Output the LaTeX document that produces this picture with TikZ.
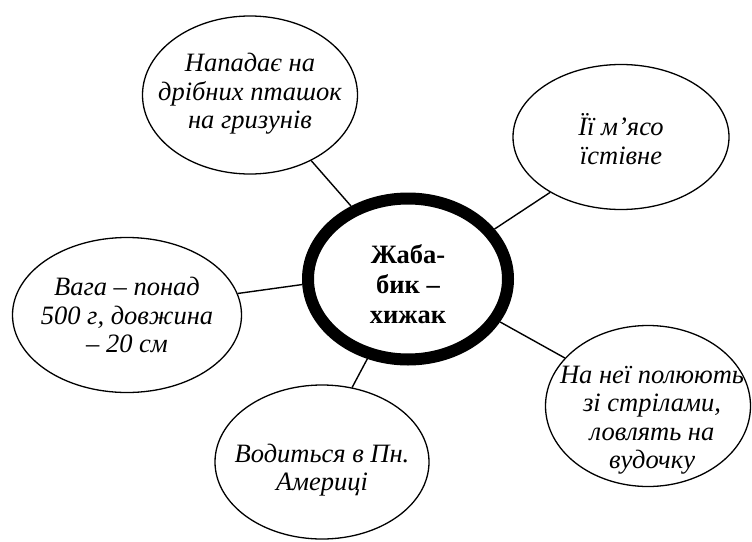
\documentclass[tikz,border=0pt]{standalone}
\usepackage{fontspec}
\setmainfont{Liberation Serif}
\usetikzlibrary{shapes.geometric}
\tikzset{
  bubble/.style={draw,ellipse,line width=1.3pt,inner sep=0pt},
  words/.style={align=center,font=\itshape\fontsize{26.5}{28.5}\selectfont},
  spoke/.style={line width=1.4pt},
}
\begin{document}
\begin{tikzpicture}[x=1pt,y=-1pt]
\useasboundingbox (0,0) rectangle (752,541);
% centre
\node[draw,ellipse,line width=12pt,inner sep=0pt,minimum width=200pt,minimum height=161pt] (hub) at (408,279) {};
\node[align=center,font=\bfseries\fontsize{26.5}{30}\selectfont] (hubtext) at (408,284) {Жаба-\\бик –\\хижак};
% outer ellipses
\node[bubble,minimum width=215pt,minimum height=158pt] (prey) at (250,95) {};
\node[bubble,minimum width=216pt,minimum height=145pt] (meat) at (621,137) {};
\node[bubble,minimum width=229pt,minimum height=155pt] (size) at (127,315) {};
\node[bubble,minimum width=205pt,minimum height=161pt] (hunt) at (648,406) {};
\node[bubble,minimum width=214pt,minimum height=154pt] (range) at (322,462) {};
% their texts
\node[words] (preytext) at (250,94) {Нападає на\\дрібних пташок\\на гризунів};
\node[words] (meattext) at (621,139) {Її м’ясо\\їстівне};
\node[words] (sizetext) at (127,315) {Вага – понад\\500 г, довжина\\– 20 см};
\node[words] (hunttext) at (652,420) {На неї полюють\\зі стрілами,\\ловлять на\\вудочку};
\node[words] (rangetext) at (322,470) {Водиться в Пн.\\Америці};
% spokes
\draw[spoke] (hub.128) -- (prey.313);
\draw[spoke] (hub.30) -- (meat.218);
\draw[spoke] (hub.183) -- (size.11);
\draw[spoke] (hub.-25) -- (hunt.150);
\draw[spoke] (hub.243) -- (range.68);
\end{tikzpicture}
\end{document}
